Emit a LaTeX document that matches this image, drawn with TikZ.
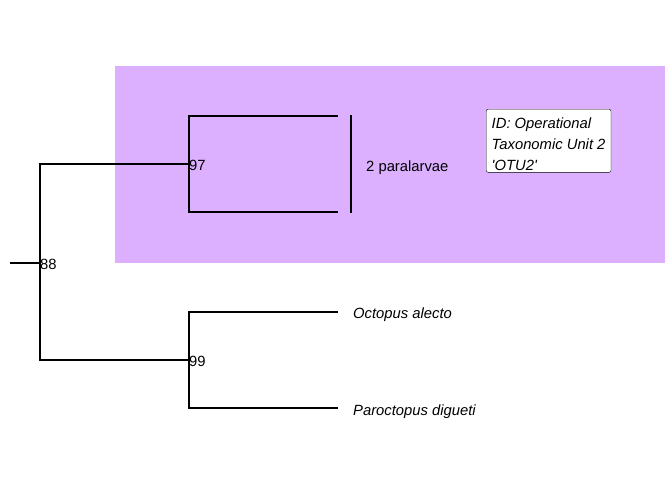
\documentclass[tikz,border=0pt]{standalone}
\usepackage{fontspec}
\setmainfont{Liberation Sans}
\usetikzlibrary{calc}
\definecolor{cladebg}{RGB}{220,176,255}
\newcommand{\labfont}{\fontsize{14.8}{21}\selectfont}

\begin{document}
\begin{tikzpicture}
      [   x=1pt,y=-1pt,
          branch/.style={draw=black,line width=1.3pt},
          bslabel/.style={anchor=base west,inner sep=0pt,font=\labfont},
          tiplab/.style={anchor=base west,inner sep=0pt,font=\labfont\itshape},
          infobox/.style={draw=black,fill=white,rounded corners=2pt,align=left,
                          anchor=north west,inner xsep=5.5pt,inner ysep=2pt,
                          font=\labfont\itshape},
      ]
          \useasboundingbox (0,0) rectangle (672,480);
          % highlighted clade
          \fill[cladebg] (115,66) rectangle (665,263);
          \coordinate (stem) at (10,263);
          \coordinate (n88) at (40,263);
          \coordinate (n97) at (189,164);
          \coordinate (n99) at (189,360);
          \coordinate (p1) at (338,116);
          \coordinate (p2) at (338,212);
          \coordinate (t1) at (338,312);
          \coordinate (t2) at (338,408);
          \draw[branch,line width=2pt] (stem) -- (n88);
          \foreach \a/\b in {n88/n97,n88/n99,n97/p1,n97/p2,n99/t1,n99/t2}
          {   \draw[branch] (\a) |- (\b);
          }
          % bootstrap values
          \foreach \n in {88,97,99}
          {   \node[bslabel] (l\n) at ($(n\n)+(0,6)$) {\n};
          }
          \node[tiplab] (alecto) at ($(t1)+(15,6)$) {Octopus alecto};
          \node[tiplab] (digueti) at ($(t2)+(15,7)$) {Paroctopus digueti};
          % clade bracket
          \coordinate (bt) at (351,115);
          \coordinate (bb) at (351,213);
          \draw[branch] (bt) -- (bb);
          \node[bslabel] (para) at (366,171) {2 paralarvae};
          \node[infobox] (otu) at (486,109)
              {\rule{0pt}{17pt}ID: Operational\\Taxonomic Unit 2\\\textquotesingle OTU2\textquotesingle};
    \end{tikzpicture}
\end{document}
